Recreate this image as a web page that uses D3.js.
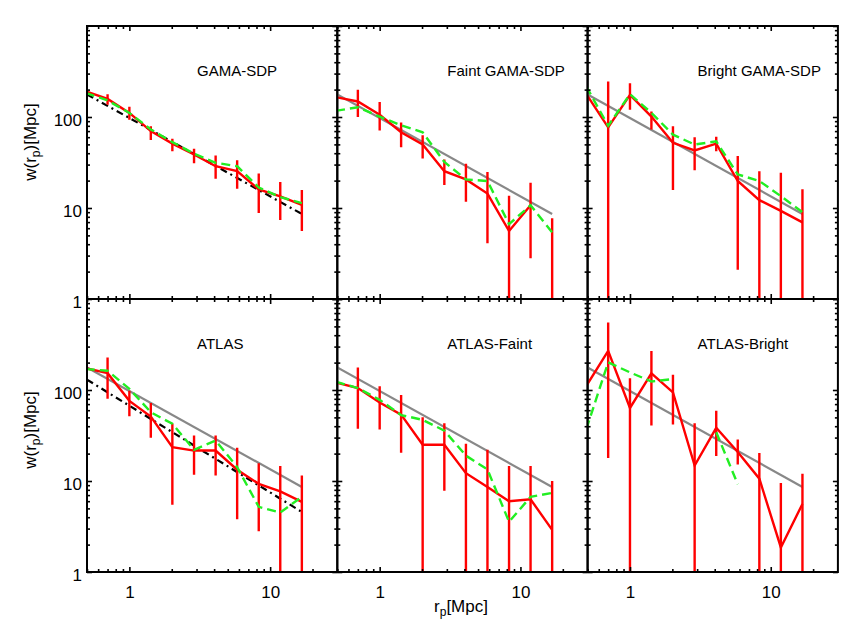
<!DOCTYPE html>
<html>
<head>
<meta charset="utf-8">
<script src="https://cdn.jsdelivr.net/npm/d3@7"></script>
<style>
  body { margin: 0; background: #fff; }
  text { font-family: "Liberation Sans", Arial, Helvetica, sans-serif; fill: #000; }
</style>
</head>
<body>
<svg id="chart"></svg>
<script>
// projected separation bins (first one sits just left of the plotted range)
const rp = [0.49, 0.7, 1.0, 1.42, 2.02, 2.88, 4.1, 5.83, 8.3, 11.8, 16.8];

// GAMA-SDP
const gamaRed   = [191, 158, 111, 70, 51, 38.7, 28.8, 25.4, 16, 13.4, 10.8];
const gamaHi    = [null, 178, 130, 79, 57.5, 44.7, 37.8, 33.5, 24, 19.3, 15.8];
const gamaLo    = [null, 136, 93, 56, 42, 31, 21, 16.3, 8.8, 7.4, 5.6];
const gamaGreen = [184, 152, 111, 73, 53, 39.5, 31.4, 28.8, 16.8, 13.2, 11.3];

// Faint GAMA-SDP
const faintRed   = [165, 148, 106, 68, 49.8, 25.4, 20.6, 14.4, 5.6, 10.7, null];
const faintHi    = [null, 199, 146, 87, 63, 34.1, 30.6, 24.8, 13.6, 19, 7.7];
const faintLo    = [null, 100, 71, 46.5, 35, 17.9, 11.7, 4.1, 0.1, 2.8, 0.1];
const faintGreen = [117, 128, 101, 81, 68, 32, 20.6, 19.8, 6.65, 10.7, 5.4];

// Bright GAMA-SDP
const brightRed   = [178, 77, 175, 101, 52, 42.9, 51, 19.8, 12.2, 9.3, 6.95];
const brightHi    = [null, 245, 235, 115, 79, 60, 60.5, 37.2, 25.4, 24.4, 16.1];
const brightLo    = [null, 0.1, 120, 73, 15.8, 26, 42, 2.1, 0.1, 0.1, 0.1];
const brightGreen = [216, 80, 178, 111, 64, 49.8, 54, 23.4, 19.8, 13.5, 9];

// ATLAS
const atlasRed   = [174, 153, 76, 51, 23.5, 21.6, 21.6, 13.3, 9.3, 7.7, 5.9];
const atlasHi    = [null, 228, 98, 72, 42.5, 31.6, 31.6, 23.2, 15.7, 14.6, 11.5];
const atlasLo    = [null, 80, 51.5, 29.8, 5.5, 11.7, 11.5, 3.8, 2.8, 0.1, 0.1];
const atlasGreen = [170, 163, 103, 57, 42.5, 22, 27.9, 14.2, 5.2, 4.5, 6.7];

// ATLAS-Faint
const afaintRed   = [121, 105, 73, 53.6, 25, 25, 12.2, 8.6, 6.0, 6.3, 2.9];
const afaintHi    = [null, 177, 110, 88, 50.2, 43.2, 25.6, 22, 14.6, 14.6, 10];
const afaintLo    = [null, 37.4, 36.7, 20.4, 0.1, 7.8, 0.1, 0.1, 0.1, 0.1, 0.1];
const afaintGreen = [123, 105, 78, 53, 47, 35.8, 19, 13.4, 3.56, 6.7, 7.4];

// ATLAS-Bright
const abrightRed   = [111, 269, 63.5, 152, 94, 14.8, 38.4, 20.8, 10.6, 1.86, 5.6];
const abrightHi    = [null, 551, 135, 269, 147, 43.2, 59.3, 28.6, 20.3, 9.5, 12];
const abrightLo    = [null, 17.9, 0.1, 40.6, 41.7, 0.1, 18.8, 15.2, 0.1, 0.1, 0.1];
const abrightGreen = [37.4, 201, 156, 124, 132, null, 34.4, 9.2, null, null, null];

// power-law fits, as end points [rp, w]
const gamaFit  = [[0.5, 177], [16.8, 8.6]];
const atlasFit = [[0.5, 130], [16.8, 4.57]];

const panels = [
  { name: 'GAMA-SDP',        red: gamaRed,    hi: gamaHi,    lo: gamaLo,    green: gamaGreen,    black: gamaFit, gray: null },
  { name: 'Faint GAMA-SDP',  red: faintRed,   hi: faintHi,   lo: faintLo,   green: faintGreen,   black: null, gray: gamaFit },
  { name: 'Bright GAMA-SDP', red: brightRed,  hi: brightHi,  lo: brightLo,  green: brightGreen,  black: null, gray: gamaFit },
  { name: 'ATLAS',           red: atlasRed,   hi: atlasHi,   lo: atlasLo,   green: atlasGreen,   black: atlasFit, gray: gamaFit },
  { name: 'ATLAS-Faint',     red: afaintRed,  hi: afaintHi,  lo: afaintLo,  green: afaintGreen,  black: null, gray: gamaFit },
  { name: 'ATLAS-Bright',    red: abrightRed, hi: abrightHi, lo: abrightLo, green: abrightGreen, black: null, gray: gamaFit }
];

const width = 866, height = 629;
const marginLeft = 87, marginTop = 26;
const pw = 250.3, ph = 273;

const svg = d3.select('#chart').attr('width', width).attr('height', height);

const x = d3.scaleLog().domain([0.5, 30]).range([0, pw]);
const y = d3.scaleLog().domain([1, 1000]).range([ph, 0]);

const xMajor = [1, 10];
const xMinor = [0.5, 0.6, 0.7, 0.8, 0.9, 2, 3, 4, 5, 6, 7, 8, 9, 20];
const yMajor = [1, 10, 100, 1000];
let yMinor = [];
[1, 10, 100].forEach(d => { for (let k = 2; k < 10; k++) yMinor.push(d * k); });

const line = d3.line()
  .defined(d => d[1] != null)
  .x(d => x(d[0]))
  .y(d => y(d[1]));

panels.forEach((p, i) => {
  const col = i % 3, row = Math.floor(i / 3);
  const g = svg.append('g')
    .attr('transform', `translate(${marginLeft + col * pw},${marginTop + row * ph})`);

  g.append('clipPath').attr('id', 'clip' + i)
    .append('rect').attr('width', pw).attr('height', ph);

  const plot = g.append('g').attr('clip-path', `url(#clip${i})`);

  if (p.gray) {
    plot.append('path').datum(p.gray)
      .attr('d', line).attr('fill', 'none')
      .attr('stroke', '#888').attr('stroke-width', 2.2);
  }
  if (p.black) {
    plot.append('path').datum(p.black)
      .attr('d', line).attr('fill', 'none')
      .attr('stroke', '#000').attr('stroke-width', 2.2)
      .attr('stroke-dasharray', '7,4,2,4');
  }

  // error bars
  const errs = rp.map((r, k) => [r, p.lo[k], p.hi[k]]).filter(d => d[2] != null);
  plot.selectAll('.err').data(errs).enter().append('line')
    .attr('x1', d => x(d[0])).attr('x2', d => x(d[0]))
    .attr('y1', d => y(Math.max(d[1], 0.3)))
    .attr('y2', d => y(d[2]))
    .attr('stroke', '#ff0000').attr('stroke-width', 2.4);

  plot.append('path').datum(rp.map((r, k) => [r, p.red[k]]))
    .attr('d', line).attr('fill', 'none')
    .attr('stroke', '#ff0000').attr('stroke-width', 2.4)
    .attr('stroke-linejoin', 'miter');

  plot.append('path').datum(rp.map((r, k) => [r, p.green[k]]))
    .attr('d', line).attr('fill', 'none')
    .attr('stroke', '#22ee22').attr('stroke-width', 2.4)
    .attr('stroke-dasharray', '9,5');

  // axes: ticks pointing inward on all four sides
  const axes = [
    [d3.axisBottom, `translate(0,${ph})`, x, xMajor, xMinor, row === 1],
    [d3.axisTop, 'translate(0,0)', x, xMajor, xMinor, false],
    [d3.axisLeft, 'translate(0,0)', y, yMajor, yMinor, col === 0],
    [d3.axisRight, `translate(${pw},0)`, y, yMajor, yMinor, false]
  ];
  axes.forEach(([fn, tr, sc, major, minor, labels]) => {
    const minorAxis = fn(sc).tickValues(minor).tickSize(-3).tickFormat('');
    const majorAxis = fn(sc).tickValues(labels && sc === y ? [1, 10, 100] : major)
      .tickSize(-5).tickFormat(labels ? d3.format('d') : '');
    if (fn === d3.axisBottom) majorAxis.tickPadding(14);
    else majorAxis.tickPadding(5);
    const ga = g.append('g').attr('transform', tr).call(minorAxis);
    const gb = g.append('g').attr('transform', tr).call(majorAxis);
    [ga, gb].forEach(a => {
      a.select('.domain').remove();
      a.selectAll('line').attr('stroke', '#000').attr('stroke-width', 1.6);
      a.selectAll('text').style('font-size', '17px')
        .style('font-family', '"Liberation Sans", Arial, sans-serif').attr('fill', '#000');
    });
    if (fn === d3.axisLeft) gb.selectAll('text').attr('dy', '0.5em');
  });

  g.append('rect').attr('width', pw).attr('height', ph)
    .attr('fill', 'none').attr('stroke', '#000').attr('stroke-width', 2);

  g.append('text')
    .attr('x', 110).attr('y', 50)
    .style('font-size', '15px')
    .text(p.name);
});

// axis titles
[142, 430].forEach(cy => {
  const t = svg.append('text')
    .attr('transform', `translate(36,${cy}) rotate(-90)`)
    .attr('text-anchor', 'middle')
    .style('font-size', '17px');
  t.append('tspan').text('w(r');
  t.append('tspan').attr('dy', 4).style('font-size', '12px').text('p');
  t.append('tspan').attr('dy', -4).text(')[Mpc]');
});

const xt = svg.append('text')
  .attr('x', 461).attr('y', 612)
  .attr('text-anchor', 'middle')
  .style('font-size', '17px');
xt.append('tspan').text('r');
xt.append('tspan').attr('dy', 4).style('font-size', '12px').text('p');
xt.append('tspan').attr('dy', -4).text('[Mpc]');
</script>
</body>
</html>
